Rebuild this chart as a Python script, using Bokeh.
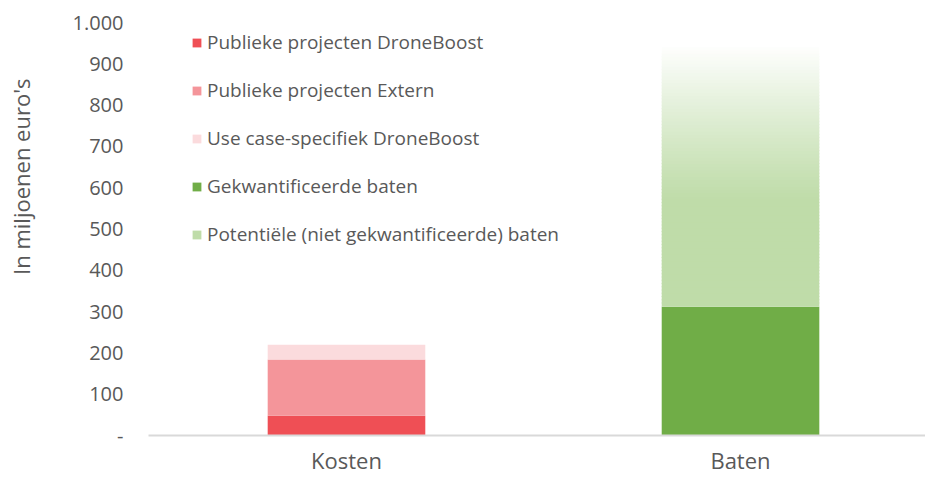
from bokeh.plotting import figure
from bokeh.models import (Range1d, FixedTicker, Legend, LegendItem, Title, ColumnDataSource)
from bokeh.embed import file_html
from bokeh.resources import INLINE

# ---- data ----
categories = ["Kosten", "Baten"]
publiek_droneboost = [48, 0]
publiek_extern = [136, 0]
use_case_droneboost = [36, 0]
gekwantificeerd = [0, 312]
potentieel = [0, 628]

series_names = ["Publieke projecten DroneBoost", "Publieke projecten Extern",
                "Use case-specifiek DroneBoost", "Gekwantificeerde baten",
                "Potentiële (niet gekwantificeerde) baten"]
series_colors = ["#ef4f55", "#f4959a", "#fbdbdd", "#70ad47", "#bfdca9"]

y_ticks = [0, 100, 200, 300, 400, 500, 600, 700, 800, 900, 1000]
y_tick_labels = ["-", "100", "200", "300", "400", "500", "600", "700", "800", "900", "1.000"]
y_axis_title = "In miljoenen euro's"

FONT = "Open Sans"
GREY = "#595959"

x_pos = list(range(len(categories)))

p = figure(width=925, height=477, output_backend="svg", toolbar_location=None,
           x_range=Range1d(-0.5025, 1.4695), y_range=Range1d(0, 1000),
           min_border_left=148, min_border_right=0, min_border_top=22, min_border_bottom=40)
p.outline_line_color = None
p.xgrid.visible = False
p.ygrid.visible = False
p.background_fill_color = "white"
p.border_fill_color = "white"

series = [publiek_droneboost, publiek_extern, use_case_droneboost, gekwantificeerd, potentieel]
bottoms = [0] * len(categories)
renderers = []
bar_w = 0.40
for i, vals in enumerate(series):
    tops = [b + v for b, v in zip(bottoms, vals)]
    if i < 4:
        r = p.vbar(x=x_pos, bottom=bottoms, top=tops, width=bar_w,
                   fill_color=series_colors[i], line_color=None)
        renderers.append(r)
    else:
        # gradient: solid in lower part, fading to white towards top
        xs, bs, ts, cols = [], [], [], []
        n = 80
        solid_frac = 0.41
        base_rgb = (0xbf, 0xdc, 0xa9)
        for xi, b, t in zip(x_pos, bottoms, tops):
            if t <= b:
                continue
            h = t - b
            for k in range(n):
                f0 = k / n
                f1 = (k + 1) / n
                fm = (f0 + f1) / 2
                if fm <= solid_frac:
                    w = 0.0
                else:
                    w = ((fm - solid_frac) / (1 - solid_frac)) ** 1.1 * 0.98
                rgb = tuple(int(round(c + (255 - c) * w)) for c in base_rgb)
                xs.append(xi)
                bs.append(b + h * f0)
                ts.append(b + h * f1 + (h / n * 0.3 if k < n - 1 else 0))
                cols.append("#%02x%02x%02x" % rgb)
        src = ColumnDataSource(dict(x=xs, bottom=bs, top=ts, color=cols))
        r = p.vbar(x="x", bottom="bottom", top="top", width=bar_w, source=src,
                   fill_color="color", line_color=None)
        renderers.append(r)
    bottoms = tops

# axes
p.yaxis.ticker = FixedTicker(ticks=y_ticks)
p.yaxis.major_label_overrides = {t: l for t, l in zip(y_ticks, y_tick_labels)}
p.yaxis.axis_line_color = None
p.yaxis.major_tick_line_color = None
p.yaxis.minor_tick_line_color = None
p.yaxis.major_tick_out = 0
p.yaxis.major_tick_in = 0
p.yaxis.major_label_standoff = 25
p.yaxis.major_label_text_font = FONT
p.yaxis.major_label_text_font_size = "20px"
p.yaxis.major_label_text_color = GREY

p.xaxis.ticker = FixedTicker(ticks=x_pos)
p.xaxis.major_label_overrides = {i: c for i, c in zip(x_pos, categories)}
p.xaxis.axis_line_color = "#d9d9d9"
p.xaxis.axis_line_width = 2
p.xaxis.major_tick_line_color = None
p.xaxis.minor_tick_line_color = None
p.xaxis.major_tick_out = 0
p.xaxis.major_tick_in = 0
p.xaxis.major_label_standoff = 9
p.xaxis.major_label_text_font = FONT
p.xaxis.major_label_text_font_size = "22px"
p.xaxis.major_label_text_color = GREY

# y axis title (as a left-side title, placed towards the top and outer edge;
# the trailing blank line widens the panel so the text sits further left)
p.add_layout(Title(text=y_axis_title + "\n ", align="right", vertical_align="top",
                   offset=56, standoff=4,
                   text_font=FONT, text_font_size="22px", text_color=GREY,
                   text_font_style="normal"), "left")

items = [LegendItem(label=series_names[i], renderers=[renderers[i]], index=0)
         for i in range(5)]
items[3] = LegendItem(label=series_names[3], renderers=[renderers[3]], index=1)
legend = Legend(items=items, location=(43, 188), orientation="vertical",
                glyph_width=11, glyph_height=11, label_height=24, spacing=22,
                padding=0, margin=0, label_standoff=5,
                label_text_font=FONT, label_text_font_size="19px", label_text_color=GREY,
                border_line_color=None, background_fill_alpha=0)
p.add_layout(legend)

open("out.html", "w").write(file_html(p, INLINE))
